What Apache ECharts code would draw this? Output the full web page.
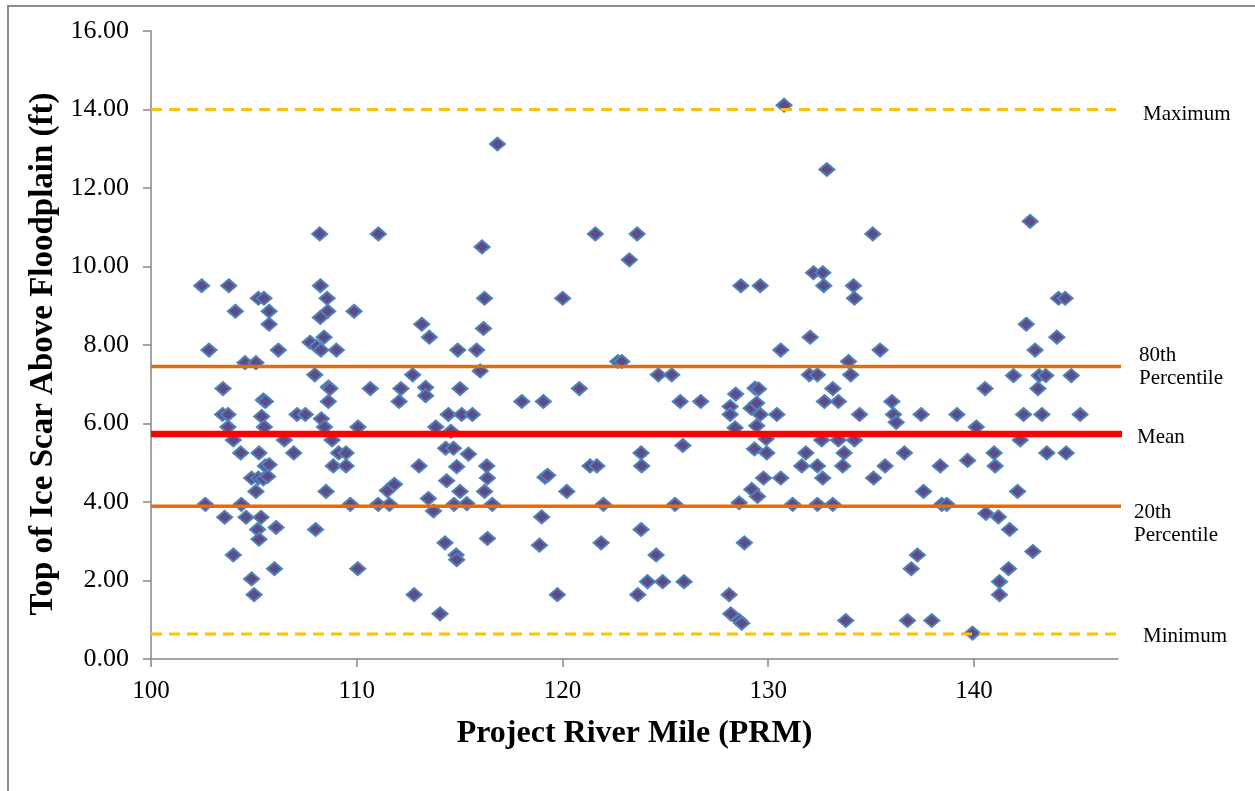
<!DOCTYPE html>
<html>
<head>
<meta charset="utf-8">
<title>Top of Ice Scar Above Floodplain</title>
<script src="https://cdn.jsdelivr.net/npm/echarts@6.0.0/dist/echarts.min.js"></script>
<style>
html, body { margin: 0; padding: 0; background: #fff; }
#chart-container { width: 1255px; height: 791px; }
</style>
</head>
<body>
<div id="chart-container"></div>
<script>
// axis ticks
var xTicks = [100, 110, 120, 130, 140];
var xRange = [100, 147];

// summary lines (ft)
var refNames = ['Maximum', '80th\nPercentile', 'Mean', '20th\nPercentile', 'Minimum'];
var refValues = [14.0, 7.45, 5.73, 3.89, 0.64];
var refLineEnd = 147.35;

// [PRM, top of ice scar above floodplain (ft)]
var scarPointsLower = [
    [108.20, 10.83], [111.05, 10.83],
    [102.46, 9.51], [103.78, 9.51], [108.23, 9.51],
    [105.22, 9.19], [105.49, 9.19], [108.56, 9.19],
    [104.10, 8.86], [105.74, 8.86], [108.59, 8.86], [109.87, 8.86],
    [108.23, 8.70], [105.74, 8.53], [108.41, 8.20], [107.73, 8.07], [108.05, 7.96],
    [102.82, 7.87], [106.19, 7.87], [108.26, 7.87], [109.01, 7.87],
    [104.57, 7.55], [105.10, 7.55], [107.96, 7.24],
    [103.50, 6.89], [108.62, 6.93], [108.70, 6.89], [110.66, 6.89],
    [105.46, 6.60], [105.56, 6.56], [108.62, 6.56],
    [103.48, 6.23], [103.74, 6.23], [105.38, 6.18], [107.10, 6.23], [107.50, 6.23], [108.28, 6.12],
    [103.74, 5.91], [105.51, 5.91], [108.43, 5.91], [110.06, 5.91],
    [104.00, 5.58], [106.48, 5.58], [108.80, 5.58],
    [104.36, 5.25], [105.25, 5.25], [106.94, 5.25], [109.12, 5.25], [109.48, 5.25],
    [105.56, 4.92], [105.74, 4.95], [108.86, 4.92], [109.48, 4.92],
    [104.89, 4.61], [105.22, 4.61], [105.46, 4.59], [105.67, 4.65],
    [105.10, 4.27], [108.51, 4.27], [111.49, 4.29], [111.83, 4.45],
    [102.64, 3.94], [104.39, 3.94], [109.69, 3.94], [111.04, 3.94], [111.59, 3.94],
    [103.58, 3.61], [104.62, 3.61], [105.35, 3.61],
    [106.08, 3.35], [105.18, 3.30], [108.00, 3.30],
    [105.25, 3.05], [104.00, 2.65], [106.00, 2.30], [110.05, 2.30], [104.89, 2.04], [105.01, 1.64]
];
var scarPointsMid = [
    [116.84, 13.12],
    [121.60, 10.83], [123.63, 10.83], [116.09, 10.50], [123.25, 10.17],
    [116.21, 9.19], [120.01, 9.19],
    [113.16, 8.53], [113.53, 8.20], [116.16, 8.42],
    [114.91, 7.87], [115.83, 7.87], [122.69, 7.58], [122.88, 7.58],
    [112.72, 7.24], [116.00, 7.34],
    [112.15, 6.89], [113.35, 6.92], [113.35, 6.71], [115.02, 6.89], [120.82, 6.89],
    [112.06, 6.56], [118.02, 6.56], [119.07, 6.56],
    [114.45, 6.23], [115.10, 6.23], [115.62, 6.23],
    [113.84, 5.91], [114.58, 5.80],
    [114.32, 5.37], [114.70, 5.37], [115.43, 5.22], [123.82, 5.25],
    [113.03, 4.92], [114.86, 4.90], [116.32, 4.92], [121.34, 4.92], [121.67, 4.92], [123.85, 4.92],
    [114.37, 4.54], [116.35, 4.61], [119.15, 4.63], [119.28, 4.68],
    [115.02, 4.27], [116.21, 4.27], [120.21, 4.27],
    [113.48, 4.09], [113.73, 3.77], [114.73, 3.94], [115.35, 3.96], [116.59, 3.94], [121.99, 3.94],
    [118.99, 3.62], [123.82, 3.30],
    [114.29, 2.96], [116.35, 3.07], [118.88, 2.90], [121.88, 2.96],
    [114.83, 2.65], [114.86, 2.53],
    [112.79, 1.64], [119.75, 1.64], [123.66, 1.64],
    [114.05, 1.15]
];
var scarPointsUpper = [
    [130.77, 14.11], [132.85, 12.47], [135.08, 10.83],
    [132.20, 9.84], [132.65, 9.84],
    [128.67, 9.51], [129.61, 9.51], [132.70, 9.51], [134.14, 9.51], [134.19, 9.19],
    [132.04, 8.20], [130.61, 7.87], [135.44, 7.87], [133.90, 7.58],
    [124.66, 7.24], [125.31, 7.24], [132.00, 7.24], [132.39, 7.24], [134.01, 7.24],
    [128.42, 6.75], [129.36, 6.90], [129.53, 6.88], [133.14, 6.89],
    [125.72, 6.56], [126.72, 6.56], [128.15, 6.43], [129.17, 6.39], [129.44, 6.52], [132.73, 6.56], [133.41, 6.56],
    [128.15, 6.23], [129.61, 6.23], [130.42, 6.23], [134.44, 6.23],
    [128.39, 5.89], [129.44, 5.94],
    [125.85, 5.44], [129.90, 5.61], [132.60, 5.58], [133.41, 5.58], [134.19, 5.58],
    [129.33, 5.35], [129.93, 5.25], [131.83, 5.25], [133.69, 5.25],
    [131.63, 4.92], [132.39, 4.92], [133.62, 4.92], [135.68, 4.92],
    [129.77, 4.61], [130.61, 4.61], [132.65, 4.61], [135.12, 4.61],
    [129.20, 4.32], [129.48, 4.14],
    [125.47, 3.94], [128.59, 3.98], [131.19, 3.94], [132.39, 3.94], [133.14, 3.94],
    [128.84, 2.96], [124.55, 2.65],
    [124.13, 1.97], [124.87, 1.97], [125.91, 1.97], [128.10, 1.64],
    [128.18, 1.15], [128.60, 0.98], [128.71, 0.91], [133.77, 0.98]
];
var scarPointsTop = [
    [142.73, 11.15], [144.11, 9.19], [144.43, 9.19], [142.54, 8.53], [144.03, 8.20], [142.97, 7.87],
    [141.92, 7.22], [143.17, 7.22], [143.49, 7.22], [144.73, 7.22],
    [140.54, 6.89], [143.11, 6.89],
    [136.01, 6.56], [136.09, 6.23], [136.22, 6.03],
    [137.43, 6.23], [139.17, 6.23], [142.41, 6.23], [143.30, 6.23], [145.16, 6.23],
    [140.11, 5.91], [142.25, 5.58],
    [136.62, 5.25], [140.98, 5.25], [143.54, 5.25], [144.48, 5.25],
    [138.36, 4.92], [139.69, 5.06], [141.03, 4.92],
    [137.55, 4.27], [142.12, 4.27], [138.44, 3.94], [138.68, 3.94],
    [140.58, 3.71], [141.19, 3.62], [141.73, 3.30], [142.86, 2.74],
    [137.25, 2.65], [136.95, 2.30], [141.68, 2.30],
    [141.24, 1.97], [141.24, 1.64],
    [136.77, 0.98], [137.95, 0.98], [139.93, 0.66]
];

(function() {
    var serif = 'Liberation Serif, Times New Roman, serif';
    var axisGray = '#868686';

    var report = {
        pageReady: function() {
            var me = this;
            me._scarChart();
        },
        /**
         * one summary line with its label at the right end
         */
        _refSeries: function(i) {
            var styles = [
                { color: '#FFC000', width: 3, type: [11, 7], offset: [23, 5] },
                { color: '#E46C0A', width: 3.5, type: 'solid', offset: [18, 0] },
                { color: '#FF0000', width: 6.5, type: 'solid', offset: [15, 3] },
                { color: '#E46C0A', width: 3.5, type: 'solid', offset: [13, 18] },
                { color: '#FFC000', width: 3, type: [11, 7], offset: [23, 3] }
            ];
            var s = styles[i];
            return {
                name: refNames[i],
                type: 'line',
                data: [[xRange[0], refValues[i]], [refLineEnd, refValues[i]]],
                symbol: 'none',
                clip: false,
                silent: true,
                z: 3,
                lineStyle: { color: s.color, width: s.width, type: s.type },
                endLabel: {
                    show: true,
                    formatter: refNames[i],
                    distance: 0,
                    offset: s.offset,
                    align: 'left',
                    fontFamily: serif,
                    fontSize: 21,
                    lineHeight: 23,
                    color: '#000'
                }
            };
        },
        _scarChart: function() {
            var me = this;
            var container = document.getElementById('chart-container');
            var myChart = echarts.init(container, null, { renderer: 'canvas' });
            var points = scarPointsLower.concat(scarPointsMid, scarPointsUpper, scarPointsTop);

            var series = [{
                name: 'Ice scar',
                type: 'scatter',
                data: points,
                symbol: 'diamond',
                symbolSize: [15, 13],
                z: 2,
                itemStyle: {
                    color: '#5E4C86',
                    borderColor: '#4F81BD',
                    borderWidth: 2,
                    opacity: 1
                }
            }];
            for (var i = 0; i < refNames.length; i++) {
                series.push(me._refSeries(i));
            }

            var option = {
                animation: false,
                backgroundColor: '#fff',
                grid: {
                    left: 151,
                    top: 31,
                    right: 137,
                    bottom: 132,
                    outerBoundsMode: 'none'
                },
                graphic: [{
                    type: 'rect',
                    shape: { x: 8, y: 6, width: 1300, height: 900 },
                    style: { fill: 'none', stroke: '#8C8C8C', lineWidth: 2 },
                    silent: true
                }],
                xAxis: {
                    type: 'value',
                    min: xRange[0],
                    max: xRange[1],
                    interval: 10,
                    name: 'Project River Mile (PRM)',
                    nameLocation: 'middle',
                    nameGap: 59,
                    nameTextStyle: { fontFamily: serif, fontSize: 32, fontWeight: 'bold', color: '#000' },
                    axisLine: { show: true, onZero: false, lineStyle: { color: axisGray, width: 1.5 } },
                    axisTick: { show: true, customValues: xTicks, length: 8, lineStyle: { color: axisGray, width: 1.5 } },
                    axisLabel: { customValues: xTicks, fontFamily: serif, fontSize: 25, color: '#000', margin: 20 },
                    splitLine: { show: false }
                },
                yAxis: {
                    type: 'value',
                    min: 0,
                    max: 16,
                    interval: 2,
                    name: 'Top of Ice Scar Above Floodplain (ft)',
                    nameLocation: 'middle',
                    nameGap: 82,
                    nameTextStyle: { fontFamily: serif, fontSize: 33, fontWeight: 'bold', color: '#000', padding: [0, 18, 0, 0] },
                    axisLine: { show: true, lineStyle: { color: axisGray, width: 1.5 } },
                    axisTick: { show: true, length: 8, lineStyle: { color: axisGray, width: 1.5 } },
                    axisLabel: {
                        fontFamily: serif,
                        fontSize: 26,
                        color: '#000',
                        margin: 22,
                        formatter: function(v) { return v.toFixed(2); }
                    },
                    splitLine: { show: false }
                },
                series: series
            };
            myChart.setOption(option);
        }
    };
    window.ice_report = report;
})();
window.ice_report.pageReady();
</script>
</body>
</html>
